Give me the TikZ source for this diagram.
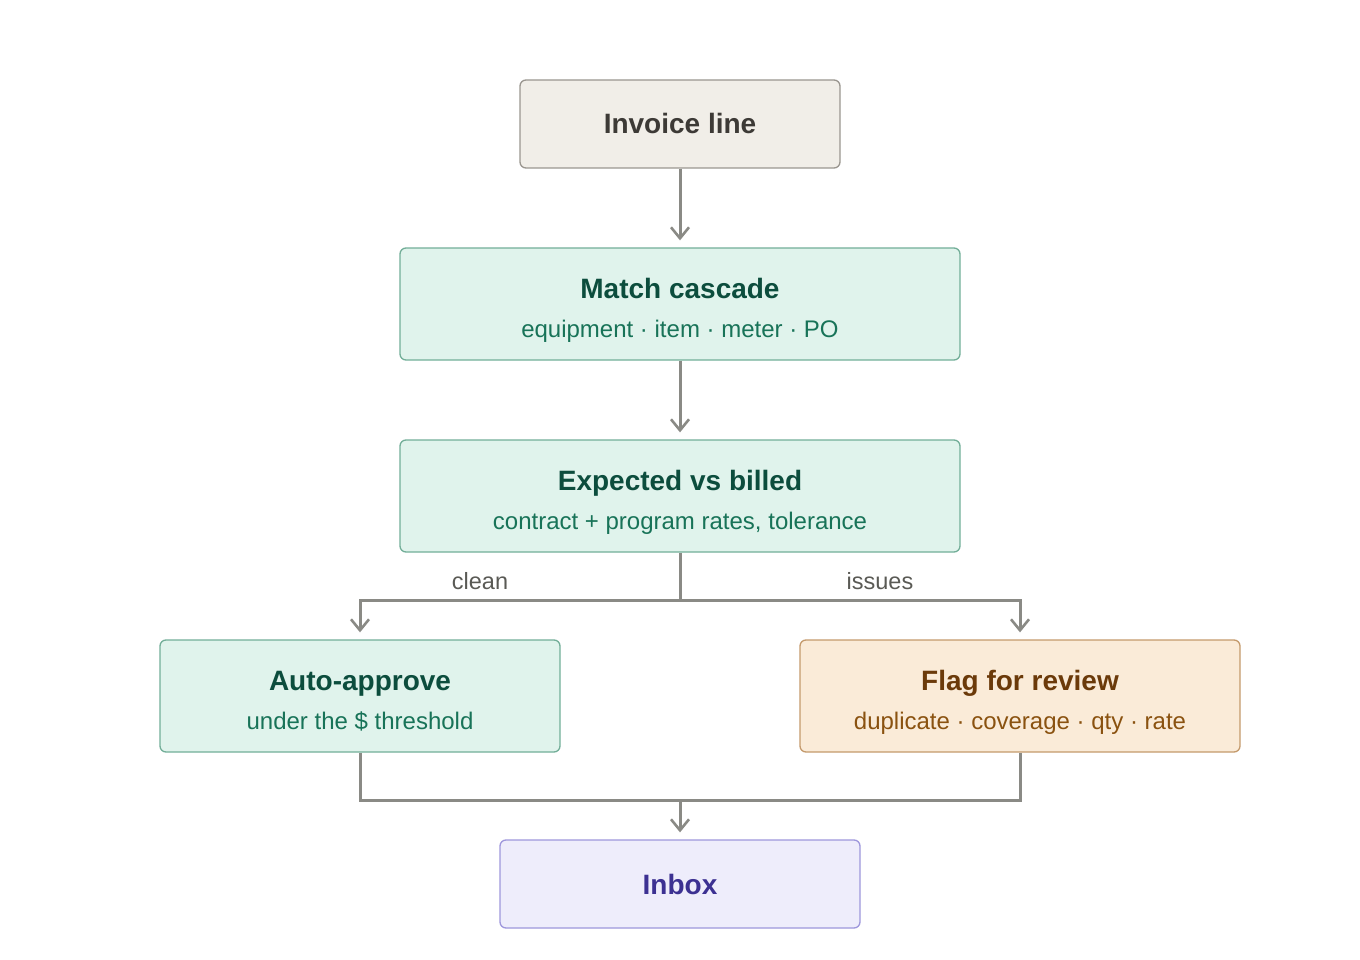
\documentclass[tikz,border=0pt]{standalone}
\usepackage{fontspec}
\setmainfont{Liberation Sans}
\usetikzlibrary{arrows.meta}
\definecolor{neutralfill}{HTML}{F1EEE8}
\definecolor{neutraldraw}{HTML}{9A968F}
\definecolor{neutraltext}{HTML}{3D3A36}
\definecolor{greenfill}{HTML}{E0F3EC}
\definecolor{greendraw}{HTML}{72AE98}
\definecolor{greentitle}{HTML}{0C4D3D}
\definecolor{greensub}{HTML}{187358}
\definecolor{orangefill}{HTML}{FAEBD8}
\definecolor{orangedraw}{HTML}{C49A6C}
\definecolor{orangetitle}{HTML}{6B3A0A}
\definecolor{orangesub}{HTML}{8A5210}
\definecolor{purplefill}{HTML}{EEEDFB}
\definecolor{purpledraw}{HTML}{9E97DC}
\definecolor{purpletext}{HTML}{3C3192}
\definecolor{linegray}{HTML}{8A8A85}
\definecolor{labelgray}{HTML}{5A5A55}
\tikzset{
  box/.style={rounded corners=6pt, line width=1.3pt, inner sep=0pt},
  ttl/.style={anchor=base, font=\fontsize{28}{32}\selectfont\bfseries, inner sep=0pt},
  sub/.style={anchor=base, font=\fontsize{24}{28}\selectfont, inner sep=0pt},
  lbl/.style={anchor=base, font=\fontsize{23.5}{28}\selectfont, text=labelgray, inner sep=0pt},
  conn/.style={draw=linegray, line width=3pt},
  arr/.style={conn, -{Straight Barb[length=11pt,width=18pt,line width=2.6pt]}}
}
\begin{document}
\begin{tikzpicture}[x=1pt,y=-1pt]
\useasboundingbox (0,0) rectangle (1360,960);
% boxes
\node[box, draw=neutraldraw, fill=neutralfill, minimum width=320pt, minimum height=88pt] (inv) at (680,124) {};
\node[box, draw=greendraw, fill=greenfill, minimum width=560pt, minimum height=112pt] (match) at (680,304) {};
\node[box, draw=greendraw, fill=greenfill, minimum width=560pt, minimum height=112pt] (exp) at (680,496) {};
\node[box, draw=greendraw, fill=greenfill, minimum width=400pt, minimum height=112pt] (auto) at (360,696) {};
\node[box, draw=orangedraw, fill=orangefill, minimum width=440pt, minimum height=112pt] (flag) at (1020,696) {};
\node[box, draw=purpledraw, fill=purplefill, minimum width=360pt, minimum height=88pt] (inbox) at (680,884) {};
% texts
\node[ttl, text=neutraltext] (invt) at (680,134) {Invoice line};
\node[ttl, text=greentitle] (matcht) at (680,298) {Match cascade};
\node[sub, text=greensub] (matchs) at (680,337) {equipment · item · meter · PO};
\node[ttl, text=greentitle] (expt) at (680,490) {Expected vs billed};
\node[sub, text=greensub] (exps) at (680,529) {contract + program rates, tolerance};
\node[ttl, text=greentitle] (autot) at (360,690) {Auto-approve};
\node[sub, text=greensub] (autos) at (360,729) {under the \$ threshold};
\node[ttl, text=orangetitle] (flagt) at (1020,690) {Flag for review};
\node[sub, text=orangesub] (flags) at (1020,729) {duplicate · coverage · qty · rate};
\node[ttl, text=purpletext] (inboxt) at (680,894) {Inbox};
% connectors
\draw[arr] (inv.south) -- ([yshift=7pt]match.north);
\draw[arr] (match.south) -- ([yshift=7pt]exp.north);
\coordinate (split) at (680,600);
\coordinate (merge) at (680,800);
\draw[conn] (exp.south) -- (split);
\draw[arr] (split) -| ([yshift=7pt]auto.north);
\draw[arr] (split) -| ([yshift=7pt]flag.north);
\draw[conn] (auto.south) |- (merge);
\draw[conn] (flag.south) |- (merge);
\draw[arr] (merge) -- ([yshift=7pt]inbox.north);
% labels
\node[lbl] (clean) at (480,589) {clean};
\node[lbl] (issues) at (880,589) {issues};
\end{tikzpicture}
\end{document}
